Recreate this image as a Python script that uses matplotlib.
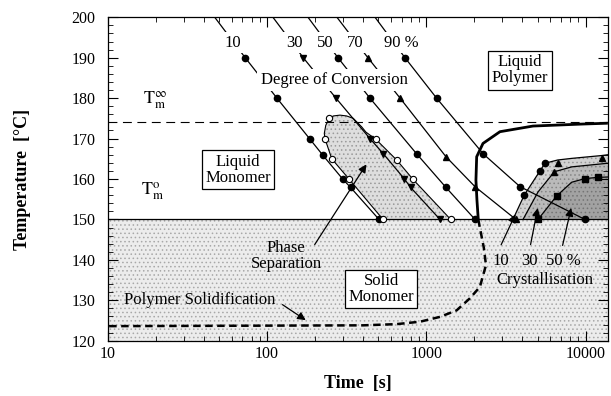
import matplotlib
matplotlib.use("Agg")
import matplotlib.pyplot as plt
import numpy as np
from matplotlib.ticker import FixedLocator, LogLocator, NullFormatter, MultipleLocator

plt.rcParams['font.family'] = ['Liberation Serif', 'DejaVu Serif']
plt.rcParams['mathtext.fontset'] = 'stix'
plt.rcParams['hatch.linewidth'] = 0.6

# ---------------- data (time [s], temperature [°C]) ----------------
conv_labels = ['10', '30', '50', '70', '90 %']
conv10_t = [47, 73, 115.5, 186.6, 224, 300, 335, 505]
conv10_T = [200, 190, 180, 169.8, 165.9, 159.9, 157.9, 150]
conv30_t = [109, 169, 271, 443, 536, 726, 798, 1219]
conv30_T = [200, 190, 180, 170, 166.3, 160.1, 157.9, 150]
conv50_t = [181, 279, 443, 871, 1330, 2023]
conv50_T = [200, 190, 180, 166.2, 157.9, 150]
conv70_t = [275, 430, 685, 1330, 2023, 3650]
conv70_T = [200, 190, 180, 165.5, 158.1, 150]
conv90_t = [477, 735, 1161, 2280, 3880, 9900]
conv90_T = [200, 190, 180, 166.2, 158.1, 150]

# phase separation dome outline and measured points
dome_t = [535, 327, 255, 231, 229, 234, 246, 261, 287, 316, 348, 393, 418, 483, 652, 826, 1423]
dome_T = [150, 160, 165, 170, 171.3, 173.3, 175, 175.6, 175.8, 175.6, 175, 172.9, 171.6, 169.8, 164.7, 159.9, 150]
ps_t = [535, 327, 255, 231, 246, 483, 652, 826, 1423]
ps_T = [150, 160, 165, 170, 175, 169.8, 164.7, 159.9, 150]

# polymer solidification / melting boundary
solid_t = [13800, 9640, 4680, 2900, 2270, 2072, 2050, 2080, 2120]
solid_T = [173.8, 173.6, 173.1, 171.7, 168.8, 165.5, 159.7, 154.8, 150]
dash_t = [2120, 2300, 2370, 2170, 1880, 1550, 1220, 914, 652, 400, 10]
dash_T = [150, 142.9, 138.7, 133.3, 130.5, 127.5, 125.9, 124.7, 124.1, 123.8, 123.6]

# crystallisation curves (10, 30, 50 %)
cr10_t = [3500, 4120, 5170, 5560, 6680, 8180, 12600, 13800]
cr10_T = [150, 156.0, 162.0, 163.9, 164.7, 165.1, 165.8, 166.0]
cr10_mc_t = [4120, 5170, 5560]
cr10_mc_T = [156.0, 162.0, 163.9]
cr10_mt_t = [6680, 12600]
cr10_mt_T = [163.9, 165.3]
cr30_t = [4050, 5030, 6370, 8190, 13800]
cr30_T = [150, 156.8, 161.8, 163.0, 163.9]
cr30_m_t = [6370]
cr30_m_T = [161.8]
cr50_t = [5030, 6580, 8180, 9910, 11900, 13800]
cr50_T = [150, 155.8, 159.2, 160.1, 160.4, 160.5]
cr50_m_t = [5030, 6580, 9910, 11900]
cr50_m_T = [150, 155.8, 160.1, 160.4]

Tm_inf = 174.2
Tm_0 = 150

xticks = [10, 100, 1000, 10000]
xticklabels = ['10', '100', '1000', '10000']
yticks = [120, 130, 140, 150, 160, 170, 180, 190, 200]

# ---------------- figure ----------------
W, H = 611, 396
XMAX = 13830
fig = plt.figure(figsize=(W / 100, H / 100), dpi=100)
ax = fig.add_axes([107.7 / W, 1 - 340.7 / H, (608 - 107.7) / W, (340.7 - 17.3) / H])
ax.set_xscale('log')
ax.set_xlim(10, XMAX)
ax.set_ylim(120, 200)

# solid monomer region (stippled)
ax.fill_between([10, XMAX], 120, Tm_0, facecolor='#ececec', edgecolor='#a8a8a8',
                linewidth=0, hatch='....', zorder=0)

# phase separation dome
ax.fill(dome_t, dome_T, facecolor='#dedede', edgecolor='#9a9a9a', linewidth=0,
        hatch='....', zorder=1)
ax.plot(dome_t, dome_T, color='k', lw=0.8, zorder=3)

# crystallisation shading
ax.fill(cr10_t + [XMAX], cr10_T + [Tm_0], facecolor='#d2d2d2', edgecolor='#969696',
        linewidth=0, hatch='....', zorder=1)
ax.fill(cr30_t + [XMAX], cr30_T + [Tm_0], facecolor='#bababa', edgecolor='#858585',
        linewidth=0, hatch='....', zorder=1)
ax.fill(cr50_t + [XMAX], cr50_T + [Tm_0], facecolor='#a2a2a2', edgecolor='#747474',
        linewidth=0, hatch='....', zorder=1)
for ct, cT in [(cr10_t, cr10_T), (cr30_t, cr30_T), (cr50_t, cr50_T)]:
    ax.plot(ct, cT, color='k', lw=0.9, zorder=4)
ax.plot(cr10_mc_t, cr10_mc_T, 'o', color='k', ms=4.5, zorder=5)
ax.plot(cr10_mt_t, cr10_mt_T, '^', color='k', ms=5, zorder=5)
ax.plot(cr30_m_t, cr30_m_T, '^', color='k', ms=5, zorder=5)
ax.plot(cr50_m_t, cr50_m_T, 's', color='k', ms=4.5, zorder=5)

# reference lines
ax.axhline(Tm_0, color='k', lw=0.9, zorder=3)
ax.axhline(Tm_inf, color='k', lw=0.8, dashes=(8, 5), zorder=3)

# conversion lines
conv_sets = [(conv10_t, conv10_T, 'o'), (conv30_t, conv30_T, 'v'), (conv50_t, conv50_T, 'o'),
             (conv70_t, conv70_T, '^'), (conv90_t, conv90_T, 'o')]
for t, T, m in conv_sets:
    ax.plot(t, T, color='k', lw=0.9, zorder=4)
    ax.plot(t[1:], T[1:], ls='none', marker=m, color='k', ms=4.5, zorder=5)

# phase separation points
ax.plot(ps_t, ps_T, ls='none', marker='o', mfc='white', mec='k', mew=0.8, ms=4.5, zorder=6)

# solidification curve
ax.plot(solid_t, solid_T, color='k', lw=2.0, zorder=5, solid_capstyle='butt')
ax.plot(dash_t, dash_T, color='k', lw=1.8, dashes=(3, 1.8), zorder=5)

# ---------------- labels ----------------
lab_pos = [(61.4, 193.7), (148, 193.7), (231, 193.7), (356, 193.7), (701, 193.7)]
for (x, y), s in zip(lab_pos, conv_labels):
    ax.text(x, y, s, ha='center', va='center', fontsize=12, zorder=7,
            bbox=dict(boxstyle='square,pad=0.15', fc='white', ec='none'))
ax.text(264, 184.5, 'Degree of Conversion', ha='center', va='center', fontsize=12, zorder=7,
        bbox=dict(boxstyle='square,pad=0.2', fc='white', ec='none'))

box = dict(boxstyle='square,pad=0.2', fc='white', ec='k', lw=0.9)
ax.text(3880, 186.9, 'Liquid\nPolymer', ha='center', va='center', fontsize=12,
        linespacing=1.0, bbox=box, zorder=7)
ax.text(65.9, 162.3, 'Liquid\nMonomer', ha='center', va='center', fontsize=12,
        linespacing=1.0, bbox=box, zorder=7)
ax.text(520, 132.8, 'Solid\nMonomer', ha='center', va='center', fontsize=12,
        linespacing=1.0, bbox=box, zorder=7)

ax.text(19.8, 179.5, r'$\mathrm{T}_{\mathrm{m}}^{\infty}$', ha='center', va='center', fontsize=13, zorder=7)
ax.text(19.0, 157.0, r'$\mathrm{T}_{\mathrm{m}}^{\mathrm{o}}$', ha='center', va='center', fontsize=13, zorder=7)

ax.text(132, 141.0, 'Phase\nSeparation', ha='center', va='center', fontsize=12,
        linespacing=1.0, zorder=7)
ax.annotate('', xy=(430, 164.2), xytext=(195, 143.2),
            arrowprops=dict(arrowstyle='-|>', color='k', lw=0.9, mutation_scale=12), zorder=7)

ax.text(38, 130, 'Polymer Solidification', ha='center', va='center', fontsize=12, zorder=7)
ax.annotate('', xy=(181, 124.7), xytext=(121, 129.3),
            arrowprops=dict(arrowstyle='-|>', color='k', lw=0.9, mutation_scale=12), zorder=7)

ax.text(2950, 139.8, '10', ha='center', va='center', fontsize=12, zorder=7)
ax.text(4450, 139.8, '30', ha='center', va='center', fontsize=12, zorder=7)
ax.text(7300, 139.8, '50 %', ha='center', va='center', fontsize=12, zorder=7)
ax.text(5560, 135.0, 'Crystallisation', ha='center', va='center', fontsize=12, zorder=7)
for head, tail in [((3690, 151.9), (2900, 143.1)), ((5050, 153.5), (4480, 143.1)),
                   ((8190, 153.5), (7110, 142.9))]:
    ax.annotate('', xy=head, xytext=tail,
                arrowprops=dict(arrowstyle='-|>', color='k', lw=0.9, mutation_scale=12), zorder=7)

# ---------------- axes ----------------
ax.xaxis.set_major_locator(FixedLocator(xticks))
ax.set_xticklabels(xticklabels)
ax.xaxis.set_minor_locator(LogLocator(base=10, subs=np.arange(2, 10)))
ax.xaxis.set_minor_formatter(NullFormatter())
ax.set_yticks(yticks)
ax.yaxis.set_minor_locator(MultipleLocator(2))
ax.tick_params(which='both', direction='in', top=True, right=True, labelsize=11.5)
ax.tick_params(which='major', length=7, width=0.8)
ax.tick_params(which='minor', length=3.5, width=0.6)
ax.tick_params(axis='y', pad=9)
ax.tick_params(axis='x', pad=4)
for s in ax.spines.values():
    s.set_linewidth(0.9)
    s.set_zorder(8)

ax.set_xlabel('Time  [s]', fontsize=13, fontweight='bold', labelpad=9)
ax.set_ylabel('Temperature  [°C]', fontsize=13, fontweight='bold', labelpad=29)

fig.savefig('out.png', dpi=100)
